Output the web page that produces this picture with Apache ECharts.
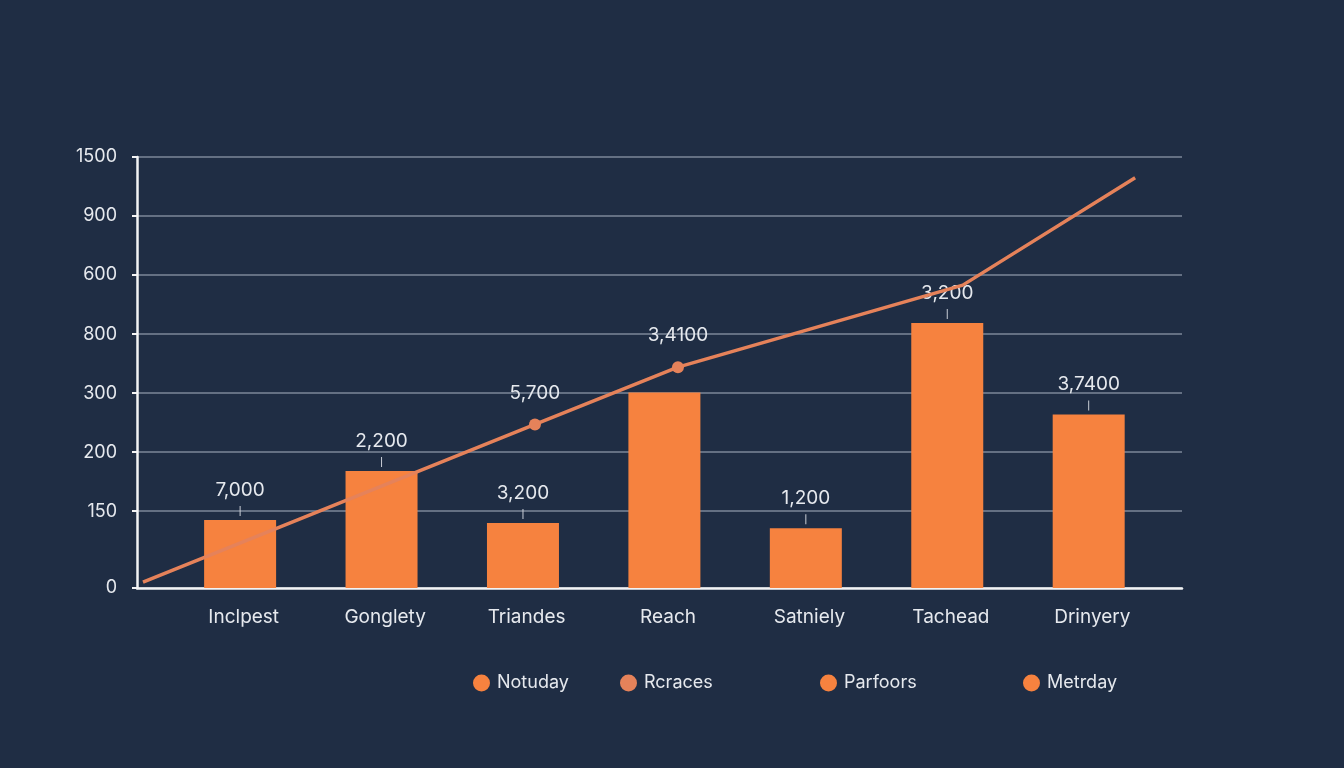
<!DOCTYPE html>
<html>
<head>
<meta charset="utf-8">
<script src="https://cdn.jsdelivr.net/npm/echarts@6/dist/echarts.min.js"></script>
<style>
  html, body { margin: 0; padding: 0; background: #1f2d44; }
  #chart { width: 1344px; height: 768px; }
</style>
</head>
<body>
<div id="chart"></div>
<script>
// 类别与数值
var categories = ['Inclpest', 'Gonglety', 'Triandes', 'Reach', 'Satniely', 'Tachead', 'Drinyery'];
var barValues = [115, 198, 110, 331, 101, 449, 294];
var barLabels = ['7,000', '2,200', '3,200', '', '1,200', '3,200', '3,7400'];

// 折线（x 以类别序号为单位）
var lineX = [-0.646, 2.106, 3.11, 5.11, 6.32];
var lineY = [10, 277, 374, 513, 695];
var lineLabels = ['', '5,700', '3,4100', '', ''];

// 纵轴刻度
var tickValues = [0, 130, 230, 330, 430, 530, 630, 730];
var tickLabels = ['0', '150', '200', '300', '800', '600', '900', '1500'];

var legendNames = ['Notuday', 'Rcraces', 'Parfoors', 'Metrday'];

var orange = '#f6823f';
var lineColor = '#e5825a';
var textColor = '#e6e9ee';
var font = 'Inter';

var myChart = echarts.init(document.getElementById('chart'));

var lineData = lineX.map(function (x, i) {
  var item = { value: [x, lineY[i]] };
  if (lineLabels[i]) {
    item.symbol = 'circle';
    item.symbolSize = 12;
    item.label = { show: true, formatter: lineLabels[i] };
  }
  return item;
});

var barData = barValues.map(function (v, i) {
  return {
    value: v,
    label: { show: barLabels[i] !== '', formatter: '{v|' + barLabels[i] + '}\n{t| }' }
  };
});

var legendLefts = [468, 615, 815, 1018];

var option = {
  backgroundColor: '#1f2d44',
  textStyle: { fontFamily: font },
  grid: [
    { left: 137, right: 162, top: 157, bottom: 180 },
    { left: 173, right: 181, top: 157, bottom: 180 }
  ],
  legend: legendNames.map(function (name, i) {
    return {
      data: [{ name: name, icon: 'circle' }],
      left: legendLefts[i],
      top: 669,
      itemWidth: 17,
      itemHeight: 17,
      itemGap: 0,
      textStyle: { color: textColor, fontSize: 18, fontFamily: font, padding: [0, 0, 0, 2] }
    };
  }),
  xAxis: [
    {
      type: 'value', gridIndex: 0, min: -0.688, max: 6.649,
      axisLine: { show: true, onZero: false, lineStyle: { color: '#f2f3f5', width: 2.5 } },
      axisTick: { show: false }, axisLabel: { show: false }, splitLine: { show: false }
    },
    {
      type: 'category', gridIndex: 1, data: categories,
      axisLine: { show: false }, axisTick: { show: false },
      axisLabel: { color: textColor, fontSize: 19, margin: 20, fontFamily: font }
    }
  ],
  yAxis: [
    {
      type: 'value', gridIndex: 0, min: 0, max: 730,
      axisLine: { show: true, onZero: false, lineStyle: { color: '#f2f3f5', width: 2.5 } },
      axisTick: { show: true, length: 5, customValues: tickValues, lineStyle: { color: '#f2f3f5', width: 2 } },
      axisLabel: {
        customValues: tickValues, color: textColor, fontSize: 18, margin: 20, fontFamily: font,
        formatter: function (v) { return tickLabels[tickValues.indexOf(v)]; }
      },
      splitLine: { show: true, lineStyle: { color: '#7d8799', width: 1.5 } }
    },
    {
      type: 'value', gridIndex: 1, min: 0, max: 730, show: false, splitLine: { show: false }
    }
  ],
  series: [
    {
      name: legendNames[0], type: 'bar', xAxisIndex: 1, yAxisIndex: 1,
      data: barData, barWidth: 72,
      itemStyle: { color: orange },
      label: {
        position: 'top', distance: 4, color: textColor,
        rich: {
          v: { fontSize: 19, lineHeight: 32, color: textColor, fontFamily: font },
          t: { width: 1, height: 10, lineHeight: 10, backgroundColor: '#c9ced6' }
        }
      },
      z: 2
    },
    {
      name: legendNames[1], type: 'line', xAxisIndex: 0, yAxisIndex: 0,
      data: lineData, symbol: 'none', symbolSize: 12,
      itemStyle: { color: lineColor },
      lineStyle: { color: lineColor, width: 3.5 },
      label: { position: 'top', distance: 16, color: textColor, fontSize: 19, fontFamily: font },
      z: 3
    },
    { name: legendNames[2], type: 'bar', xAxisIndex: 1, yAxisIndex: 1, data: [], itemStyle: { color: orange } },
    { name: legendNames[3], type: 'bar', xAxisIndex: 1, yAxisIndex: 1, data: [], itemStyle: { color: orange } }
  ]
};

myChart.setOption(option);
</script>
</body>
</html>
